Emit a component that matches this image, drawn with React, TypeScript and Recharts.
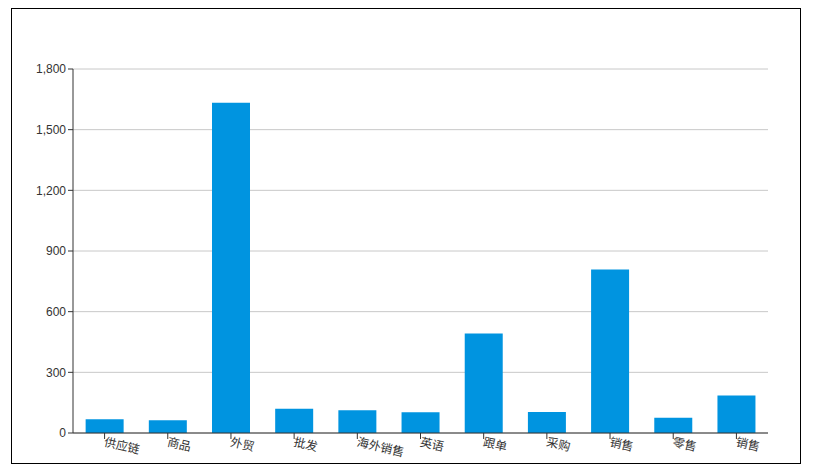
import React from "react";
import { BarChart, Bar, XAxis, YAxis, CartesianGrid } from "recharts";

const categories = ["供应链", "商品", "外贸", "批发", "海外销售", "英语", "跟单", "采购", "销售", "零售", "销售"];
const counts = [68, 63, 1633, 120, 113, 103, 492, 104, 808, 75, 185];
const yTicks = [0, 300, 600, 900, 1200, 1500, 1800];

const data = categories.map((name, i) => ({ name, value: counts[i] }));

const FONT = '"Liberation Sans", Arial, "Noto Sans CJK SC", sans-serif';

function SlantTick(props: any) {
  const { x, y, payload } = props;
  return (
    <g transform={`translate(${x},${y})`}>
      <text
        x={0}
        y={0}
        dy={5}
        textAnchor="start"
        fill="#333"
        fontSize={12}
        fontFamily={FONT}
        transform="rotate(13)"
      >
        {payload.value}
      </text>
    </g>
  );
}

export default function App() {
  return (
    <div
      style={{
        width: 790,
        height: 456,
        border: "1px solid #000",
        boxSizing: "border-box",
        marginLeft: 3,
      }}
    >
      <BarChart
        width={788}
        height={454}
        data={data}
        margin={{ top: 60, right: 32, bottom: 0, left: 1 }}
        barCategoryGap="20%"
        style={{ overflow: "visible" }}
      >
        <CartesianGrid vertical={false} stroke="#c8c8c8" />
        <XAxis
          dataKey="name"
          height={30}
          tick={<SlantTick />}
          tickLine={{ stroke: "#333" }}
          axisLine={{ stroke: "#333" }}
          tickSize={6}
          interval={0}
        />
        <YAxis
          width={60}
          domain={[0, 1800]}
          ticks={yTicks}
          tickFormatter={(v: number) => v.toLocaleString("en-US")}
          tick={{ fill: "#333", fontSize: 12, fontFamily: FONT }}
          tickLine={{ stroke: "#333" }}
          axisLine={{ stroke: "#333" }}
          tickSize={5}
          tickMargin={2}
        />
        <Bar dataKey="value" fill="#0094e0" isAnimationActive={false} />
      </BarChart>
    </div>
  );
}
